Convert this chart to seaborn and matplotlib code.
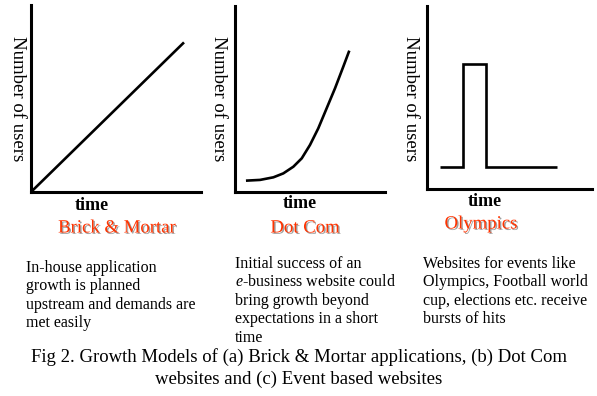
import numpy as np
import pandas as pd
import seaborn as sns
import matplotlib.pyplot as plt
import matplotlib.patheffects as pe

# growth curves (axes run 0..10 both ways)
brick_time = [0.0, 9.0]
brick_users = [0.0, 8.0]

dotcom_time = [0.73, 1.67, 2.56, 3.22, 3.89, 4.45, 5.0, 5.55, 6.11, 6.67,
               7.22, 7.62]
dotcom_users = [0.61, 0.65, 0.79, 1.00, 1.36, 1.81, 2.53, 3.42, 4.50, 5.58,
                6.74, 7.60]

event_time = [0.76, 2.18, 2.18, 3.59, 3.59, 7.88]
event_users = [1.18, 1.18, 6.83, 6.83, 1.18, 1.18]

titles = ["Brick & Mortar", "Dot Com", "Olympics"]
notes = [
    "In-house application\ngrowth is planned\nupstream and demands are\nmet easily",
    "Initial success of an\n$e$-business website could\nbring growth beyond\nexpectations in a short\ntime",
    "Websites for events like\nOlympics, Football world\ncup, elections etc. receive\nbursts of hits",
]
caption = ("Fig 2. Growth Models of (a) Brick & Mortar applications, (b) Dot Com\n"
           "websites and (c) Event based websites")

W, H = 597, 396
sns.set_style("white")
plt.rcParams["font.family"] = ["Liberation Serif", "DejaVu Serif"]
plt.rcParams["text.color"] = "black"
plt.rcParams["mathtext.fontset"] = "custom"
plt.rcParams["mathtext.it"] = "Liberation Serif:italic"
plt.rcParams["mathtext.rm"] = "Liberation Serif"

fig = plt.figure(figsize=(W / 100, H / 100), dpi=100)


def px_axes(left, top, right, bottom):
    return fig.add_axes([left / W, 1 - bottom / H, (right - left) / W, (bottom - top) / H])


def ftext(x, y, s, **kw):
    fig.text(x / W, 1 - y / H, s, color=kw.pop("color", "black"), **kw)


# panel boxes in pixels: left, top, right, bottom
boxes = [(31, 5, 201, 192), (235, 6, 385, 192), (427, 6, 592, 189)]
series = [(brick_time, brick_users), (dotcom_time, dotcom_users), (event_time, event_users)]
ylab_x = [17, 218, 410]
time_xy = [(92, 206), (300, 204), (485, 202)]
title_xy = [(117, 228), (305, 228), (481, 224)]
note_xy = [(26, 260), (235, 256), (423, 256)]

for i, (box, (t, u)) in enumerate(zip(boxes, series)):
    ax = px_axes(*box)
    df = pd.DataFrame({"time": t, "users": u})
    sns.lineplot(data=df, x="time", y="users", ax=ax, color="black",
                 linewidth=1.9, sort=False, estimator=None,
                 solid_joinstyle="miter", solid_capstyle="butt")
    ax.set_xlim(0, 10)
    ax.set_ylim(0, 10)
    ax.set_xticks([])
    ax.set_yticks([])
    ax.set_xlabel("")
    ax.set_ylabel("")
    for side in ["top", "right"]:
        ax.spines[side].set_visible(False)
    for side in ["left", "bottom"]:
        ax.spines[side].set_linewidth(2.2)
        ax.spines[side].set_color("black")
        ax.spines[side].set_capstyle("projecting")
    ax.patch.set_alpha(0)

    ftext(ylab_x[i], 99, "Number of users", rotation=270, ha="center",
          va="center", fontsize=13.5)
    ftext(*time_xy[i], "time", ha="center", va="center", fontsize=13,
          fontweight="bold")
    ftext(*title_xy[i], titles[i], ha="center", va="center", fontsize=13.5,
          color="#ff3300",
          path_effects=[pe.withSimplePatchShadow(offset=(1, -1),
                                                 shadow_rgbFace="#a0a0a0",
                                                 alpha=1)])
    ftext(*note_xy[i], notes[i], ha="left", va="top", fontsize=11.5,
          linespacing=1.2)

ftext(299, 368, caption, ha="center", va="center", fontsize=13.5,
      linespacing=1.3)

fig.savefig("out.png", dpi=100)
